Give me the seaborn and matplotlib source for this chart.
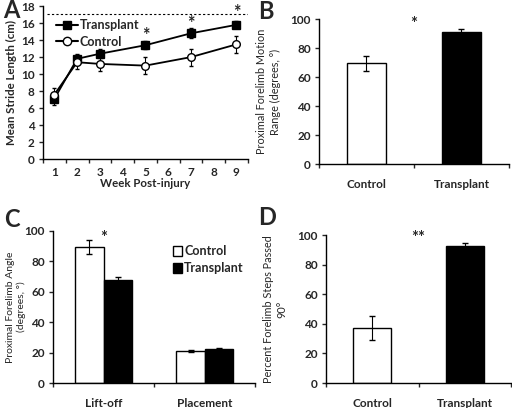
import numpy as np
import pandas as pd
import matplotlib
matplotlib.use("Agg")
import matplotlib.pyplot as plt
import seaborn as sns
from matplotlib.lines import Line2D
from matplotlib.patches import Patch

sns.set_style("white")
plt.rcParams['font.family'] = ['Lato', 'DejaVu Sans']

# ---- Data ----
weeks = [1, 2, 3, 5, 7, 9]
transplant_stride = [7.1, 11.8, 12.4, 13.4, 14.8, 15.8]
transplant_stride_err = [0.7, 0.6, 0.5, 0.5, 0.6, 0.4]
control_stride = [7.6, 11.4, 11.2, 11.0, 12.0, 13.5]
control_stride_err = [0.8, 0.8, 0.8, 1.0, 1.0, 1.0]
week_labels = ["1", "2", "3", "4", "5", "6", "7", "8", "9"]
stars_a_weeks = [5, 7, 9]
stars_a_y = [14.5, 16.0, 17.3]
sig_line_a = 17.1

groups = ["Control", "Transplant"]
motion_range = [69.5, 91.0]
motion_range_err = [5.0, 2.0]

phases = ["Lift-off", "Placement"]
angle_control = [89.5, 21.0]
angle_control_err = [4.5, 0.6]
angle_transplant = [67.5, 22.5]
angle_transplant_err = [2.0, 0.4]

steps_passed = [37.0, 92.5]
steps_passed_err = [8.0, 2.0]

fig = plt.figure(figsize=(5.12, 4.08), dpi=100)
TICKFS = 8.5
LABFS = 8.3
YLFS = 7.8
bold = dict(fontweight="bold")

def style_axes(ax):
    sns.despine(ax=ax)
    for s in ("left", "bottom"):
        ax.spines[s].set_color("black")
        ax.spines[s].set_linewidth(1.0)
    ax.tick_params(axis="y", direction="out", length=3, width=1, labelsize=TICKFS, pad=3, left=True)
    for lab in ax.get_yticklabels():
        lab.set_fontweight("bold")

# ---- Panel A ----
axA = fig.add_axes([0.084, 0.610, 0.400, 0.375])
dfA = pd.DataFrame({
    "week": weeks * 2,
    "length": transplant_stride + control_stride,
    "group": ["Transplant"] * len(weeks) + ["Control"] * len(weeks),
})
sns.lineplot(data=dfA, x="week", y="length", hue="group", style="group",
             palette={"Transplant": "black", "Control": "black"},
             markers={"Transplant": "s", "Control": "o"}, dashes=False,
             ax=axA, legend=False, linewidth=1.3, markersize=5.5,
             markeredgecolor="black", markeredgewidth=1.0)
axA.lines[1].set_markerfacecolor("white")
axA.errorbar(weeks, transplant_stride, yerr=transplant_stride_err, fmt="none",
             ecolor="black", elinewidth=0.8, capsize=1.5, zorder=1)
axA.errorbar(weeks, control_stride, yerr=control_stride_err, fmt="none",
             ecolor="black", elinewidth=0.8, capsize=1.5, zorder=1)
axA.axhline(sig_line_a, xmin=0.02, xmax=1.0, color="black", linestyle=(0, (2, 2)), linewidth=0.8)
for w, y in zip(stars_a_weeks, stars_a_y):
    axA.text(w, y, "*", ha="center", va="center", fontsize=13, **bold)
axA.set_xlim(0.5, 9.5)
axA.set_ylim(0, 18)
axA.set_yticks(range(0, 19, 2))
axA.set_xticks(range(1, 10))
axA.set_xticklabels(week_labels, fontsize=TICKFS, **bold)
axA.set_xticks(np.arange(0.5, 10, 1), minor=True)
axA.tick_params(axis="x", which="major", length=0, pad=6)
axA.tick_params(axis="x", which="minor", length=3, width=1, direction="out", bottom=True)
axA.set_xlabel("Week Post-injury", fontsize=LABFS, labelpad=0, **bold)
axA.set_ylabel("Mean Stride Length (cm)", fontsize=LABFS, labelpad=3, **bold)
style_axes(axA)
legA = [Line2D([0], [0], color="black", marker="s", markersize=6, lw=1.5, label="Transplant"),
        Line2D([0], [0], color="black", marker="o", markerfacecolor="white", markersize=6, lw=1.5, label="Control")]
axA.legend(handles=legA, loc="upper left", bbox_to_anchor=(0.02, 0.97), frameon=False,
           prop=dict(size=9, weight="bold"), handlelength=1.8, handletextpad=0.1,
           labelspacing=0.35, borderaxespad=0.3)

def bar_panel(rect, values, errs, ylabel, star, star_y):
    ax = fig.add_axes(rect)
    df = pd.DataFrame({"group": groups, "value": values})
    sns.barplot(data=df, x="group", y="value", hue="group",
                palette={"Control": "white", "Transplant": "black"},
                edgecolor="black", linewidth=1.0, width=0.41, ax=ax, legend=False)
    ax.errorbar(range(len(groups)), values, yerr=errs, fmt="none", ecolor="black",
                elinewidth=0.8, capsize=2)
    ax.set_xlim(-0.5, 1.5)
    ax.set_ylim(0, 100)
    ax.set_yticks(range(0, 101, 20))
    ax.set_xticks([0, 1])
    ax.set_xticklabels(groups, fontsize=TICKFS, **bold)
    ax.set_xticks([-0.5, 0.5, 1.5], minor=True)
    ax.tick_params(axis="x", which="major", length=0, pad=11)
    ax.tick_params(axis="x", which="minor", length=3, width=1, direction="out", bottom=True)
    ax.set_xlabel("")
    ax.set_ylabel(ylabel, fontsize=YLFS, labelpad=7, linespacing=1.3)
    ax.text(0.5, star_y, star, ha="center", va="center", fontsize=12, **bold)
    style_axes(ax)
    return ax

axB = bar_panel([0.623, 0.598, 0.371, 0.355], motion_range, motion_range_err,
                "Proximal Forelimb Motion\nRange (degrees, °)", "*", 96.5)
axD = bar_panel([0.637, 0.061, 0.361, 0.363], steps_passed, steps_passed_err,
                "Percent Forelimb Steps Passed\n90°", "**", 98)

# ---- Panel C ----
axC = fig.add_axes([0.1035, 0.061, 0.395, 0.373])
dfC = pd.DataFrame({
    "phase": phases * 2,
    "angle": angle_control + angle_transplant,
    "group": ["Control"] * 2 + ["Transplant"] * 2,
})
sns.barplot(data=dfC, x="phase", y="angle", hue="group",
            palette={"Control": "white", "Transplant": "black"},
            edgecolor="black", linewidth=1.0, width=0.56, ax=axC, legend=False)
offs = 0.14
axC.errorbar(np.arange(2) - offs, angle_control, yerr=angle_control_err, fmt="none",
             ecolor="black", elinewidth=0.8, capsize=2)
axC.errorbar(np.arange(2) + offs, angle_transplant, yerr=angle_transplant_err, fmt="none",
             ecolor="black", elinewidth=0.8, capsize=2)
axC.text(0.0, 95.5, "*", ha="center", va="center", fontsize=12, **bold)
axC.set_xlim(-0.5, 1.5)
axC.set_ylim(0, 100)
axC.set_yticks(range(0, 101, 20))
axC.set_xticks([0, 1])
axC.set_xticklabels(phases, fontsize=TICKFS, **bold)
axC.set_xticks([-0.5, 0.5, 1.5], minor=True)
axC.tick_params(axis="x", which="major", length=0, pad=11)
axC.tick_params(axis="x", which="minor", length=3, width=1, direction="out", bottom=True)
axC.set_xlabel("")
axC.set_ylabel("Proximal Forelimb Angle\n(degrees, °)", fontsize=7.5, linespacing=1.15)
axC.yaxis.set_label_coords(-0.135, 0.5)
style_axes(axC)
legC = [Patch(facecolor="white", edgecolor="black", label="Control"),
        Patch(facecolor="black", edgecolor="black", label="Transplant")]
axC.legend(handles=legC, loc="upper right", bbox_to_anchor=(1.0, 0.98), frameon=False,
           prop=dict(size=9, weight="bold"), handlelength=0.7, handleheight=0.9,
           handletextpad=0.2, labelspacing=0.4)

# ---- Panel letters ----
for x, y, t in [(0.006, 0.975, "A"), (0.505, 0.972, "B"), (0.008, 0.462, "C"), (0.505, 0.468, "D")]:
    fig.text(x, y, t, fontsize=17, fontweight="bold", va="center", ha="left")

fig.savefig("out.png", dpi=100)
